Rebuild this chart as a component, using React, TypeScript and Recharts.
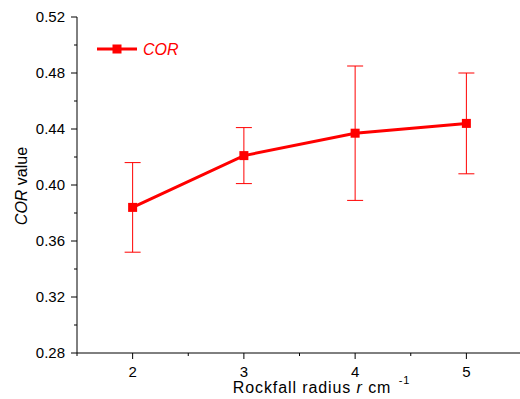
import { ComposedChart, Line, XAxis, YAxis, ErrorBar } from 'recharts';

const radius = [2, 3, 4, 5];
const corValue = [0.384, 0.421, 0.437, 0.444];
const corLow = [0.352, 0.401, 0.389, 0.408];
const corHigh = [0.416, 0.441, 0.485, 0.48];

const xMajorTicks = [2, 3, 4, 5];
const xMinorTicks = [1.5, 2.5, 3.5, 4.5];
const yMajorTicks = [0.28, 0.32, 0.36, 0.4, 0.44, 0.48, 0.52];
const yMinorTicks = [0.3, 0.34, 0.38, 0.42, 0.46, 0.5];

const RED = '#ff0000';
const FONT = '"Liberation Sans", Arial, sans-serif';

const data = radius.map((r, i) => ({
  r,
  cor: corValue[i],
  err: [corValue[i] - corLow[i], corHigh[i] - corValue[i]],
}));

const isIn = (list: number[], v: number) => list.some((t) => Math.abs(t - v) < 1e-6);

const XTick = (props: any) => {
  const { x, y, payload } = props;
  const major = isIn(xMajorTicks, payload.value);
  return (
    <g>
      <line x1={x} x2={x} y1={y} y2={y + (major ? 6 : 3)} stroke="#000" strokeWidth={1} />
      {major && (
        <text x={x} y={y + 24} textAnchor="middle" fontSize={15} fontFamily={FONT} fill="#000">
          {payload.value}
        </text>
      )}
    </g>
  );
};

const YTick = (props: any) => {
  const { x, y, payload } = props;
  const major = isIn(yMajorTicks, payload.value);
  return (
    <g>
      <line x1={x} x2={x - (major ? 6 : 3)} y1={y} y2={y} stroke="#000" strokeWidth={1} />
      {major && (
        <text x={x - 12} y={y + 5} textAnchor="end" fontSize={15} fontFamily={FONT} fill="#000">
          {payload.value.toFixed(2)}
        </text>
      )}
    </g>
  );
};

const SquareDot = (props: any) => {
  const { cx, cy, index } = props;
  return <rect key={index} x={cx - 4.5} y={cy - 4.5} width={9} height={9} fill={RED} />;
};

// axis title, shifted right like the original export
const XLabel = (props: any) => {
  const { viewBox } = props;
  const cx = viewBox.x + viewBox.width / 2 + 22;
  return (
    <text x={cx} y={393} textAnchor="middle" fontSize={16} letterSpacing={0.9} fontFamily={FONT} fill="#000">
      Rockfall radius <tspan fontStyle="italic">r</tspan> cm{' '}
      <tspan fontSize={11} dx={2} dy={-9}>-1</tspan>
    </text>
  );
};

const YLabel = (props: any) => {
  const { viewBox } = props;
  const cy = viewBox.y + viewBox.height / 2 + 1;
  return (
    <text
      x={27}
      y={cy}
      transform={`rotate(-90 27 ${cy})`}
      textAnchor="middle"
      fontSize={16}
      fontFamily={FONT}
      fill="#000"
    >
      <tspan fontStyle="italic">COR</tspan> value
    </text>
  );
};

const LegendBox = () => (
  <svg width={100} height={24} style={{ position: 'absolute', left: 95, top: 37 }}>
    <line x1={2} x2={42} y1={12} y2={12} stroke={RED} strokeWidth={3} />
    <rect x={17.5} y={7.5} width={9} height={9} fill={RED} />
    <text x={48} y={18} fontSize={16} fontStyle="italic" fontFamily={FONT} fill={RED}>
      COR
    </text>
  </svg>
);

export default function App() {
  return (
    <div style={{ position: 'absolute', left: 0, top: 0, width: 520, height: 399, overflow: 'hidden', background: '#fff' }}>
      <ComposedChart width={522} height={399} data={data} margin={{ top: 17, right: 0, bottom: 16, left: 17 }}>
        <XAxis
          dataKey="r"
          type="number"
          domain={[1.5, 5.5]}
          ticks={[...xMinorTicks, ...xMajorTicks].sort((a, b) => a - b)}
          interval={0}
          height={30}
          tickSize={0}
          tickMargin={0}
          tickLine={false}
          tick={<XTick />}
          stroke="#000"
          label={<XLabel />}
        />
        <YAxis
          type="number"
          domain={[0.28, 0.52]}
          ticks={[...yMinorTicks, ...yMajorTicks].sort((a, b) => a - b)}
          interval={0}
          width={60}
          tickSize={0}
          tickMargin={0}
          tickLine={false}
          tick={<YTick />}
          stroke="#000"
          allowDataOverflow
          label={<YLabel />}
        />
        <Line
          dataKey="cor"
          stroke={RED}
          strokeWidth={3}
          dot={<SquareDot />}
          activeDot={false}
          isAnimationActive={false}
        >
          <ErrorBar dataKey="err" width={8} stroke={RED} strokeWidth={1} isAnimationActive={false} />
        </Line>
      </ComposedChart>
      <LegendBox />
    </div>
  );
}
